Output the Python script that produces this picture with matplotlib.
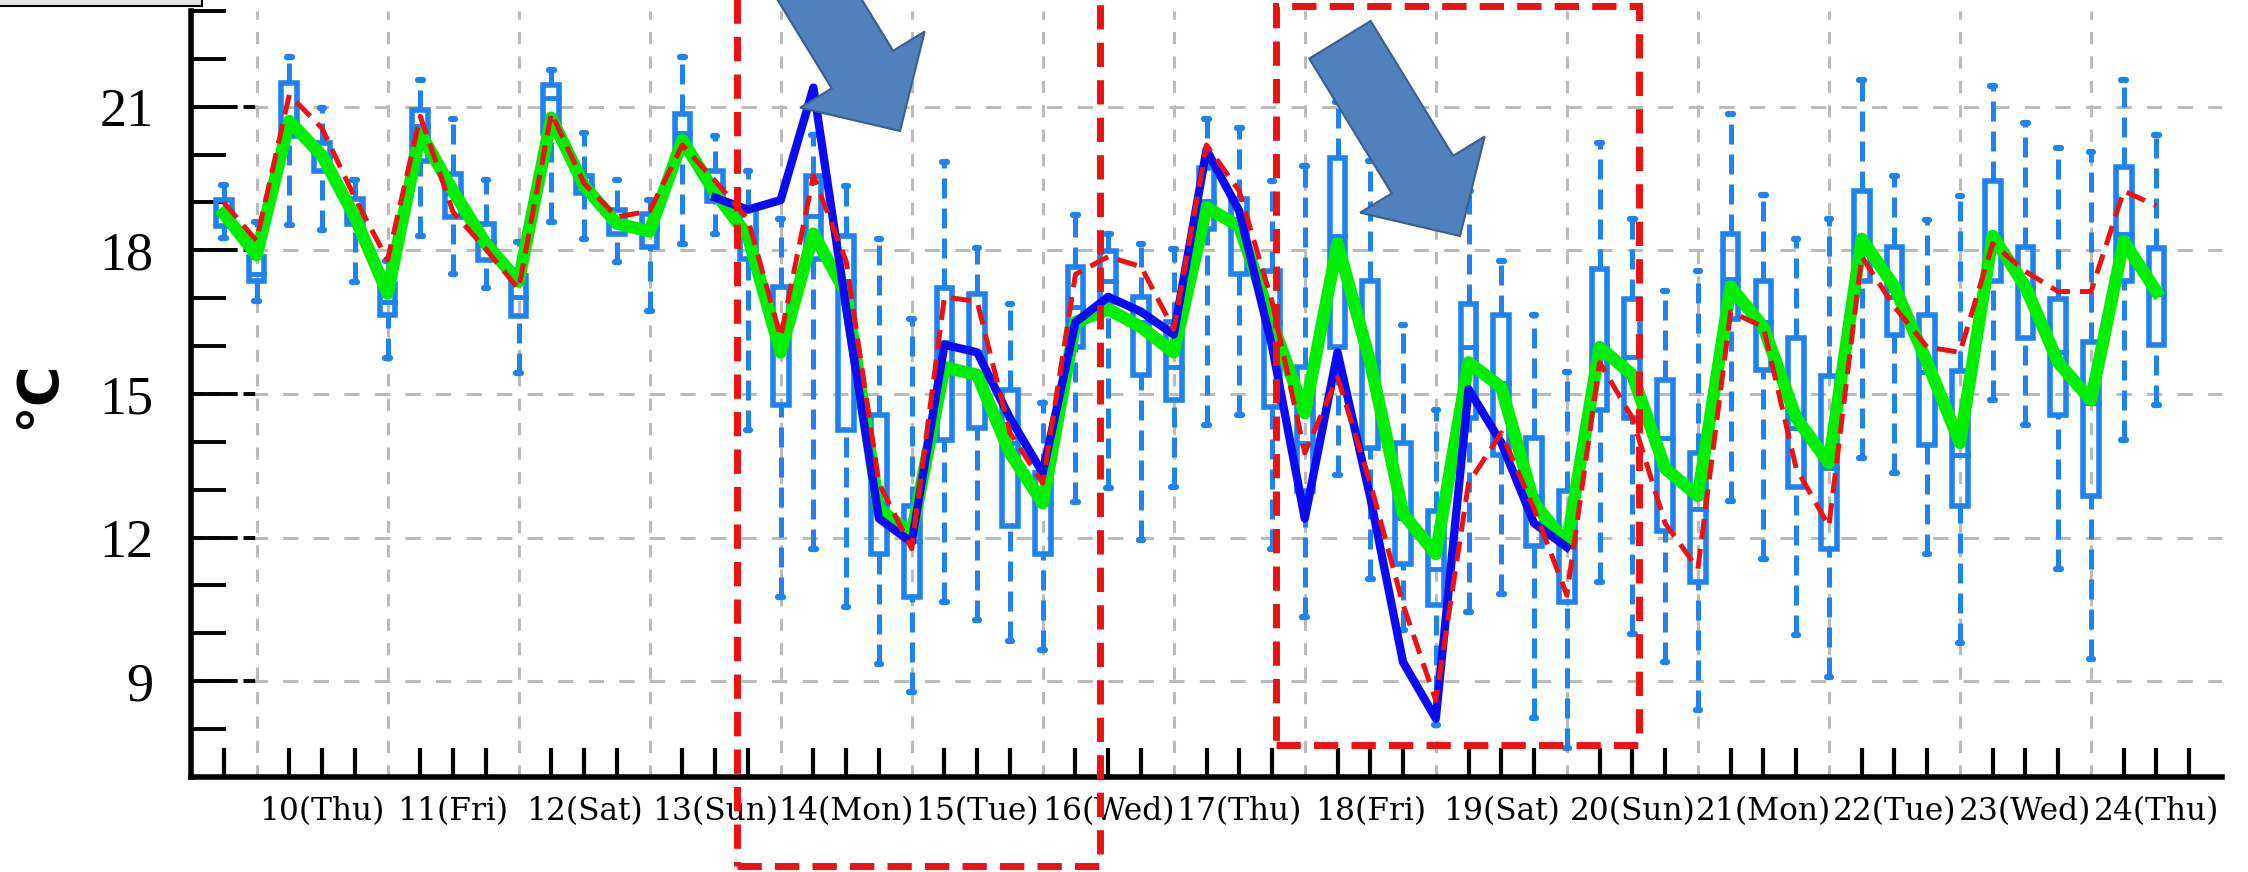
import numpy as np
import matplotlib
matplotlib.use("Agg")
import matplotlib.pyplot as plt
from matplotlib.patches import Rectangle, Polygon
from matplotlib.transforms import blended_transform_factory

W, H = 2248, 872

# 6-hourly forecast steps (day of month)
times = np.arange(9.75, 24.51, 0.25)

whisker_hi = [19.37, 18.6, 22.03, 20.98, 19.47, 17.77, 21.56, 20.74, 19.47, 18.17,
              21.77, 20.45, 19.47, 19.05, 22.03, 20.38, 19.66, 18.66, 20.4, 19.35,
              18.24, 16.56, 19.85, 18.06, 16.87, 14.82, 18.74, 18.35, 18.14, 18.03,
              20.74, 20.56, 19.45, 19.77, 21.1, 19.87, 16.45, 14.66, 19.24, 17.77,
              16.66, 15.45, 20.24, 18.66, 17.16, 17.56, 20.84, 19.16, 18.24, 18.66,
              21.56, 19.56, 18.63, 19.14, 21.43, 20.66, 20.14, 20.06, 21.56, 20.42]
q3 = [19.05, 17.87, 21.5, 20.24, 19.08, 17.3, 20.93, 19.6, 18.56, 17.47,
      21.45, 19.56, 18.84, 18.77, 20.84, 19.66, 18.87, 17.24, 19.56, 18.3,
      14.56, 12.66, 17.22, 17.08, 15.08, 13.35, 17.66, 17.98, 17.03, 16.5,
      19.72, 19.08, 17.56, 15.56, 19.93, 17.35, 13.98, 12.56, 16.87, 16.66,
      14.08, 12.98, 17.61, 16.98, 15.3, 13.77, 18.35, 17.35, 16.17, 15.37,
      19.24, 18.08, 16.66, 15.48, 19.45, 18.08, 16.98, 16.08, 19.75, 18.06]
median = [18.8, 17.5, 20.6, 19.98, 18.77, 16.93, 20.6, 19.2, 18.19, 17.03,
          21.19, 19.35, 18.56, 18.45, 20.45, 19.3, 18.4, 16.3, 18.72, 17.35,
          12.7, 11.93, 16.08, 15.87, 13.98, 12.72, 16.82, 17.35, 16.5, 15.56,
          19.03, 18.66, 16.5, 13.98, 18.3, 15.66, 12.4, 11.35, 15.98, 15.24,
          12.87, 11.93, 15.98, 15.77, 14.08, 12.6, 17.4, 16.5, 14.3, 13.45,
          17.98, 17.03, 15.45, 13.72, 18.3, 17.24, 15.87, 14.82, 18.35, 17.08]
q1 = [18.5, 17.35, 20.38, 19.66, 18.56, 16.66, 19.87, 18.7, 17.8, 16.63,
      20.45, 19.19, 18.35, 18.08, 20.08, 19.03, 17.82, 14.77, 17.82, 14.24,
      11.66, 10.77, 14.03, 14.3, 12.24, 11.66, 15.98, 16.93, 15.4, 14.87,
      18.45, 17.5, 14.72, 12.98, 15.98, 13.87, 11.45, 10.6, 14.5, 13.72,
      11.82, 10.66, 14.66, 14.5, 12.14, 11.08, 16.56, 15.5, 13.05, 11.77,
      17.35, 16.24, 13.93, 12.66, 17.35, 16.17, 14.56, 12.87, 17.35, 16.03]
whisker_lo = [18.25, 16.95, 18.53, 18.42, 17.33, 15.75, 18.3, 17.5, 17.22, 15.43,
              18.6, 18.24, 17.75, 16.74, 18.14, 18.35, 14.24, 10.77, 11.77, 10.56,
              9.35, 8.77, 10.66, 10.27, 9.85, 9.66, 12.74, 13.03, 11.96, 13.05,
              14.35, 14.56, 11.77, 10.35, 13.3, 11.14, 10.08, 8.08, 10.45, 10.82,
              8.24, 7.6, 11.08, 9.98, 9.4, 8.4, 12.77, 11.56, 9.96, 9.08,
              13.66, 13.35, 11.66, 9.79, 14.87, 14.35, 11.35, 9.47, 14.03, 14.77]

ens_mean = [18.77, 17.9, 20.7, 19.98, 18.7, 17.1, 20.45, 19.24, 18.14, 17.35,
            20.77, 19.35, 18.56, 18.4, 20.3, 19.2, 18.3, 15.87, 18.35, 17.1,
            12.6, 12.08, 15.56, 15.4, 13.77, 12.72, 16.5, 16.77, 16.4, 15.87,
            18.9, 18.5, 16.5, 14.6, 18.14, 15.66, 12.5, 11.66, 15.66, 15.14,
            12.72, 11.87, 15.98, 15.4, 13.45, 12.87, 17.24, 16.4, 14.5, 13.56,
            18.24, 17.24, 15.66, 13.98, 18.3, 17.24, 15.66, 14.87, 18.19, 17.14]
observed = [19.0, 18.2, 21.25, 20.55, 19.1, 17.8, 20.8, 18.8, 18.03, 17.19,
            20.87, 19.4, 18.7, 18.82, 20.2, 19.45, 18.65, 16.19, 19.56, 17.77,
            13.14, 11.77, 17.03, 16.93, 14.19, 13.14, 17.5, 17.87, 17.66, 16.35,
            20.2, 19.24, 16.93, 13.77, 15.35, 13.14, 10.6, 8.6, 13.14, 14.19,
            12.6, 10.8, 15.66, 14.5, 12.3, 11.35, 16.72, 16.4, 13.45, 12.24,
            17.87, 16.82, 15.98, 15.87, 18.14, 17.56, 17.14, 17.14, 19.24, 18.93]

# deterministic run, 13(12h) .. 20(00h)
blue_times = times[(times >= 13.5) & (times <= 20.0)]
blue_run = [19.1, 18.85, 19.05, 21.4, 16.8, 12.4, 11.9, 16.03, 15.87, 14.5,
            13.35, 16.5, 17.03, 16.72, 16.24, 20.1, 18.82, 16.0, 12.4, 15.87,
            12.84, 9.4, 8.22, 15.1, 13.98, 12.3, 11.8]

day_labels = ["10(Thu)", "11(Fri)", "12(Sat)", "13(Sun)", "14(Mon)", "15(Tue)",
              "16(Wed)", "17(Thu)", "18(Fri)", "19(Sat)", "20(Sun)", "21(Mon)",
              "22(Tue)", "23(Wed)", "24(Thu)"]

BOX = "#1e82f0"
GRID = "#bbbbbb"

fig = plt.figure(figsize=(W / 100, H / 100), dpi=100)
fig.patch.set_facecolor("white")
ax = fig.add_axes([191 / W, 1 - 777 / H, (2222 - 191) / W, (777 - 11) / H])

ax.set_xlim(9.5, 25.0)
ax.set_ylim(7, 23)

# grid
for d in range(10, 25):
    ax.axvline(d, color=GRID, lw=2.2, ls=(0, (4, 4)), zorder=0)
for y in [9, 12, 15, 18, 21]:
    ax.axhline(y, color=GRID, lw=2.2, ls=(0, (5, 5)), zorder=0)

# box plots
bw = 0.12
cw = 0.035
for t, lo, a, m, b, hi in zip(times, whisker_lo, q1, median, q3, whisker_hi):
    ax.add_patch(Rectangle((t - bw / 2, a), bw, b - a, fill=False, ec=BOX, lw=4, zorder=2))
    ax.plot([t - bw / 2, t + bw / 2], [m, m], color=BOX, lw=3.5, zorder=2)
    ax.plot([t, t], [b, hi], color=BOX, lw=3.6, ls=(0, (4, 2)), zorder=2)
    ax.plot([t, t], [lo, a], color=BOX, lw=3.6, ls=(0, (4, 2)), zorder=2)
    for y in (lo, hi):
        ax.plot([t - cw / 2, t + cw / 2], [y, y], color=BOX, lw=4.5,
                solid_capstyle="round", zorder=2)

ax.plot(times, ens_mean, color="#00ee00", lw=9, zorder=3)
ax.plot(blue_times, blue_run, color="#0a0af5", lw=6, zorder=4)
ax.plot(times, observed, color="#ee1111", lw=3.6, ls=(0, (4, 2)), zorder=5)

# axes styling
for side in ["top", "right"]:
    ax.spines[side].set_visible(False)
for side in ["left", "bottom"]:
    ax.spines[side].set_linewidth(4)

ax.set_xticks(np.arange(10.5, 24.6, 1.0))
ax.set_xticklabels(day_labels, family="DejaVu Serif", fontsize=22.5)
minor_x = [t for t in np.arange(9.75, 24.8, 0.25) if t % 1 != 0 and t % 1 != 0.5]
ax.set_xticks(minor_x, minor=True)
ax.tick_params(axis="x", which="both", direction="in", length=21, width=3, pad=14)

ax.set_yticks([9, 12, 15, 18, 21])
ax.set_yticklabels(["9", "12", "15", "18", "21"], family="Liberation Serif", fontsize=39)
ax.set_yticks([8, 10, 11, 13, 14, 16, 17, 19, 20, 22, 23], minor=True)
ax.tick_params(axis="y", which="both", direction="in", length=25, width=2.8, pad=27)

trans = blended_transform_factory(ax.transAxes, ax.transData)
for y in [9, 12, 15, 18, 21]:
    ax.plot([0, 0.034], [y, y], transform=trans, color="black", lw=2.8,
            ls=(0, (3, 1.5)), zorder=1, clip_on=False)

fig.text(38 / W, 1 - 395 / H, "°C", rotation=90, fontsize=40, fontweight="bold",
         ha="center", va="center")

# cropped legend frame at top left
fig.add_artist(Rectangle((-0.01, 1 - 6 / H), 0.01 + 202 / W, 0.02,
                         transform=fig.transFigure, fc="#e4e4e4", ec="black", lw=1.5))


def fig_rect(x0, y0, x1, y1):
    return Rectangle((x0 / W, 1 - y1 / H), (x1 - x0) / W, (y1 - y0) / H,
                     transform=fig.transFigure, fill=False, ec="#ee1111", lw=5,
                     ls=(0, (3.5, 1.9)), zorder=6)


fig.add_artist(fig_rect(737, -30, 1100, 866))
fig.add_artist(fig_rect(1276, 6, 1639, 745))


def block_arrow(tip, length=230, sw=72, hw=146, hl=72):
    d = np.array([0.522, 0.853])
    n = np.array([-d[1], d[0]])
    p = np.array(tip, dtype=float)
    tail = p - d * length
    base = p - d * hl
    pts = [tail + n * sw / 2, base + n * sw / 2, base + n * hw / 2, p,
           base - n * hw / 2, base - n * sw / 2, tail - n * sw / 2]
    pts = [(x / W, 1 - y / H) for x, y in pts]
    return Polygon(pts, closed=True, transform=fig.transFigure,
                   fc="#4f81bd", ec="#3a5f8c", lw=1.5, zorder=7)


fig.add_artist(block_arrow((900, 131)))
fig.add_artist(block_arrow((1460, 236)))

fig.savefig("out.png", dpi=100)
